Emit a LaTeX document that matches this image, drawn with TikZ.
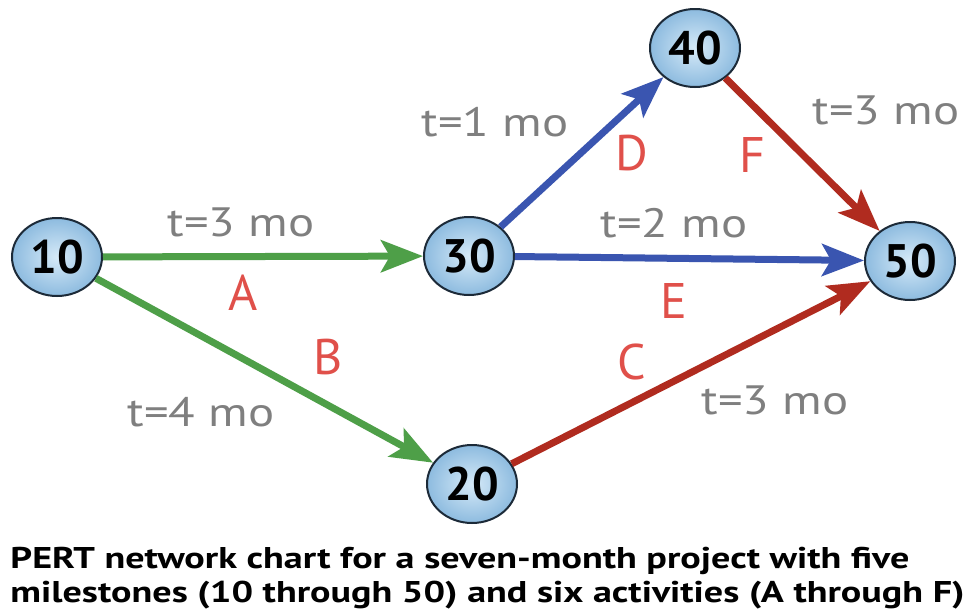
\documentclass[tikz,border=0pt]{standalone}
\usepackage{fontspec}
\setmainfont{PT Sans}
\usetikzlibrary{arrows.meta,shapes.geometric}
\definecolor{cgreen}{HTML}{4E9F48}
\definecolor{cblue}{HTML}{3A55B0}
\definecolor{cred}{HTML}{B02B1F}
\definecolor{cletter}{HTML}{E0504A}
\definecolor{cgray}{HTML}{7F7F7F}
\definecolor{cedge}{HTML}{1C2A38}
\definecolor{cin}{HTML}{D6EAF8}
\definecolor{cout}{HTML}{8DBBDF}
\begin{document}
\begin{tikzpicture}[x=1pt,y=-1pt,
  milestone/.style={ellipse, minimum width=90pt, minimum height=78pt, inner sep=0pt,
    draw=cedge, line width=2pt, inner color=cin, outer color=cout,
    font=\fontsize{47}{47}\selectfont\bfseries, text=black},
  act/.style={line width=7pt, -{Stealth[length=42pt,width=32pt,inset=9pt]}},
  dur/.style={font=\fontsize{41}{41}\selectfont, text=cgray, xscale=1.19, transform shape},
  letter/.style={font=\fontsize{50}{50}\selectfont, text=cletter},
  captext/.style={font=\fontsize{30}{34}\selectfont\bfseries, text=black, anchor=west, align=left, xscale=1.27, transform shape}]
\useasboundingbox (0,0) rectangle (967,611);
\fill[white] (0,0) rectangle (967,611);
\node[milestone] (n10) at (57,257) {10};
\node[milestone] (n30) at (469,256) {30};
\node[milestone] (n40) at (695,48) {40};
\node[milestone] (n20) at (472,484) {20};
\node[milestone] (n50) at (910,261) {50};
\draw[act, cgreen] (n10) -- (n30);
\draw[act, cgreen] (n10) -- (n20);
\draw[act, cblue] (n30) -- (n40);
\draw[act, cblue] (n30) -- (n50);
\draw[act, cred] (n40) -- (n50);
\draw[act, cred] (n20) -- (n50);
\node[dur] (dA) at (241,222) {t=3 mo};
\node[dur] (dB) at (201,412) {t=4 mo};
\node[dur] (dD) at (495,122) {t=1 mo};
\node[dur] (dF) at (886,110) {t=3 mo};
\node[dur] (dE) at (674,223) {t=2 mo};
\node[dur] (dC) at (775,400) {t=3 mo};
\node[letter] (lA) at (243,293) {A};
\node[letter] (lB) at (328,357) {B};
\node[letter] (lD) at (632,153) {D};
\node[letter] (lF) at (752,155) {F};
\node[letter] (lE) at (674,301) {E};
\node[letter] (lC) at (632,362) {C};
\node[captext] (caption) at (6,578) {PERT network chart for a seven-month project with five\\milestones (10 through 50) and six activities (A through F)};
\end{tikzpicture}
\end{document}
